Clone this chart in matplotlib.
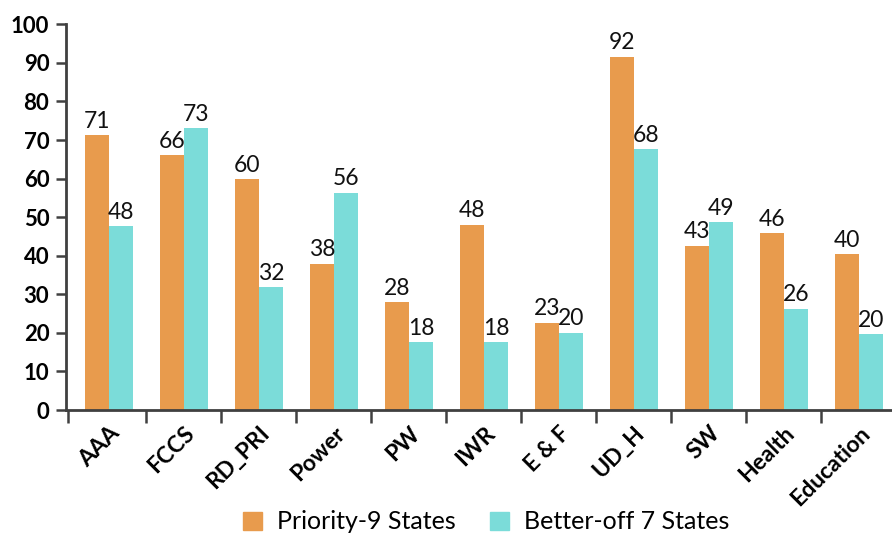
import matplotlib
matplotlib.use("Agg")
import matplotlib.pyplot as plt
import numpy as np
from matplotlib.patches import Patch

categories = ["AAA", "FCCS", "RD_PRI", "Power", "PW", "IWR", "E & F", "UD_H", "SW", "Health", "Education"]
priority9 = [71.3, 66.1, 59.9, 37.9, 28.0, 48.0, 22.6, 91.6, 42.6, 45.8, 40.4]
betteroff7 = [47.7, 73.1, 31.8, 56.3, 17.6, 17.6, 20.0, 67.6, 48.7, 26.2, 19.6]
series_names = ["Priority-9 States", "Better-off 7 States"]
yticks = [0, 10, 20, 30, 40, 50, 60, 70, 80, 90, 100]

c_orange = "#E89B4D"
c_teal = "#7BDCD9"
axis_col = "#404040"

plt.rcParams['font.family'] = ['Lato', 'DejaVu Sans']

fig = plt.figure(figsize=(8.92, 5.44), dpi=100)
ax = fig.add_axes([0.074, 0.2463, 0.926, 0.709])

x = np.arange(len(categories))
w = 0.32
b1 = ax.bar(x - w / 2, priority9, w, color=c_orange)
b2 = ax.bar(x + w / 2, betteroff7, w, color=c_teal)

for bars, vals in ((b1, priority9), (b2, betteroff7)):
    for rect, v in zip(bars, vals):
        ax.annotate(f"{round(v)}", (rect.get_x() + rect.get_width() / 2, v),
                    xytext=(0, 2.5), textcoords="offset points",
                    ha="center", va="bottom", fontsize=16.5, color="#111111")

x_left, x_right = -0.573, 10.44
ax.set_xlim(x_left, x_right)
ax.set_ylim(0, 100)
ax.set_yticks(yticks)
ax.set_yticklabels([str(t) for t in yticks], fontsize=16, fontweight="bold")

ax.set_xticks(x)
ax.set_xticklabels(categories, rotation=45, ha="right", rotation_mode="anchor",
                   fontsize=16.5, fontweight="bold")
ax.tick_params(axis="x", which="major", length=0, pad=9)
ax.set_xticks([x_left + 0.02] + [i + 0.5 for i in range(10)], minor=True)
ax.tick_params(axis="x", which="minor", length=9, width=1.8, color=axis_col, direction="out")
ax.tick_params(axis="y", length=7, width=1.8, color=axis_col, pad=5)

for s in ("top", "right"):
    ax.spines[s].set_visible(False)
for s in ("left", "bottom"):
    ax.spines[s].set_color(axis_col)
    ax.spines[s].set_linewidth(2)

handles = [Patch(color=c_orange), Patch(color=c_teal)]
fig.legend(handles, series_names, loc="lower center", bbox_to_anchor=(0.545, -0.022),
           ncol=2, frameon=False, fontsize=18, handlelength=0.75, handleheight=0.75,
           handletextpad=0.6, columnspacing=1.4)

fig.savefig("out.png", dpi=100)
